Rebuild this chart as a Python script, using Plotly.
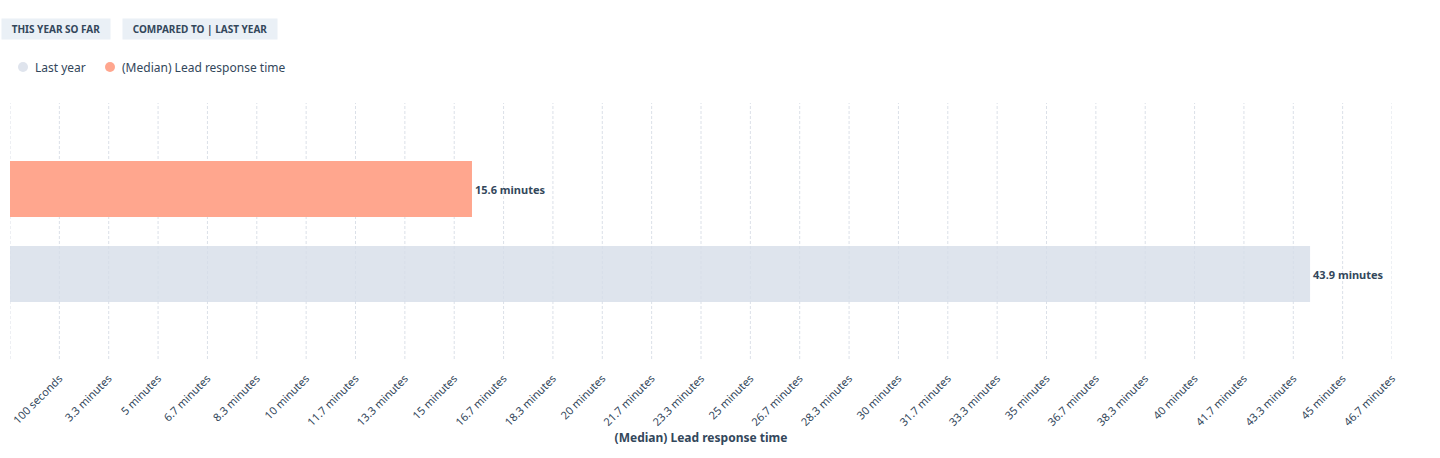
import plotly.graph_objects as go

# ---- data ----
series_names = ["(Median) Lead response time", "Last year"]
values_seconds = [936, 2634]
value_labels = ["15.6 minutes", "43.9 minutes"]
bar_colors = ["#FFA68E", "rgba(214,221,233,0.8)"]
tick_values = [100 * i for i in range(1, 29)]
tick_labels = ["100 seconds", "3.3 minutes", "5 minutes", "6.7 minutes", "8.3 minutes",
               "10 minutes", "11.7 minutes", "13.3 minutes", "15 minutes", "16.7 minutes",
               "18.3 minutes", "20 minutes", "21.7 minutes", "23.3 minutes", "25 minutes",
               "26.7 minutes", "28.3 minutes", "30 minutes", "31.7 minutes", "33.3 minutes",
               "35 minutes", "36.7 minutes", "38.3 minutes", "40 minutes", "41.7 minutes",
               "43.3 minutes", "45 minutes", "46.7 minutes"]
legend_order = ["Last year", "(Median) Lead response time"]
legend_colors = ["#DFE4ED", "#FFA68E"]

FONT = "Noto Sans"
TXT = "#33475b"
GRID = "#DBE0E8"

W, H = 1440, 458
ML, MR, MT, MB = 10, 48, 103, 99
PW, PH = W - ML - MR, H - MT - MB

fig = go.Figure()
for i, (name, v, lab, c) in enumerate(zip(series_names, values_seconds, value_labels, bar_colors)):
    fig.add_trace(go.Bar(
        x=[v], y=[i], orientation="h", marker=dict(color=c, line=dict(width=0)),
        width=0.66, text=["<b>" + lab + "</b>"], textposition="outside",
        outsidetextfont=dict(family=FONT, size=11, color=TXT), cliponaxis=False,
        showlegend=False, hoverinfo="skip", name=name))

# dashed gridlines, below the bars
for tv in [0] + tick_values:
    fig.add_shape(type="line", xref="x", yref="paper", x0=tv, x1=tv, y0=0, y1=1,
                  line=dict(color=GRID, width=1, dash="3px,2px"), layer="below")

fig.update_layout(
    width=W, height=H,
    margin=dict(l=ML, r=MR, t=MT, b=MB),
    paper_bgcolor="white", plot_bgcolor="white",
    font=dict(family=FONT, color=TXT, size=12),
    barmode="overlay",
    showlegend=False,
    xaxis=dict(range=[0, 2800], tickvals=tick_values, ticktext=tick_labels, tickangle=-45,
               showgrid=False, zeroline=False, showline=False, ticks="",
               ticklabelstandoff=10,
               tickfont=dict(family=FONT, size=11, color=TXT),
               title=dict(text="<b>(Median) Lead response time</b>",
                          font=dict(family=FONT, size=12, color=TXT), standoff=5)),
    yaxis=dict(range=[2.0, -1.012], showticklabels=False, showgrid=False, zeroline=False,
               showline=False),
)

def px2paper_x(px):
    return (px - ML) / PW

def px2paper_y(py):
    return (H - MB - py) / PH

# buttons
for txt, cx, bw in [("THIS YEAR SO FAR", 56, 102), ("COMPARED TO | LAST YEAR", 200, 148)]:
    fig.add_annotation(text="<b>" + txt + "</b>", xref="paper", yref="paper",
                       x=px2paper_x(cx), y=px2paper_y(29), showarrow=False,
                       xanchor="center", yanchor="middle", width=bw, height=14,
                       font=dict(family=FONT, size=10, color=TXT),
                       bgcolor="#EAF0F6", borderpad=3)

# legend (manual, circle markers)
for name, c, mx in zip(legend_order, legend_colors, [23, 110]):
    fig.add_shape(type="circle", xref="paper", yref="paper", xsizemode="pixel", ysizemode="pixel",
                  xanchor=px2paper_x(mx), yanchor=px2paper_y(67), x0=-5, x1=5, y0=-5, y1=5,
                  fillcolor=c, line=dict(width=0))
    fig.add_annotation(text=name, xref="paper", yref="paper", x=px2paper_x(mx + 10),
                       y=px2paper_y(67), showarrow=False, xanchor="left", yanchor="middle",
                       font=dict(family=FONT, size=12, color=TXT))

fig.write_html("out.html")
